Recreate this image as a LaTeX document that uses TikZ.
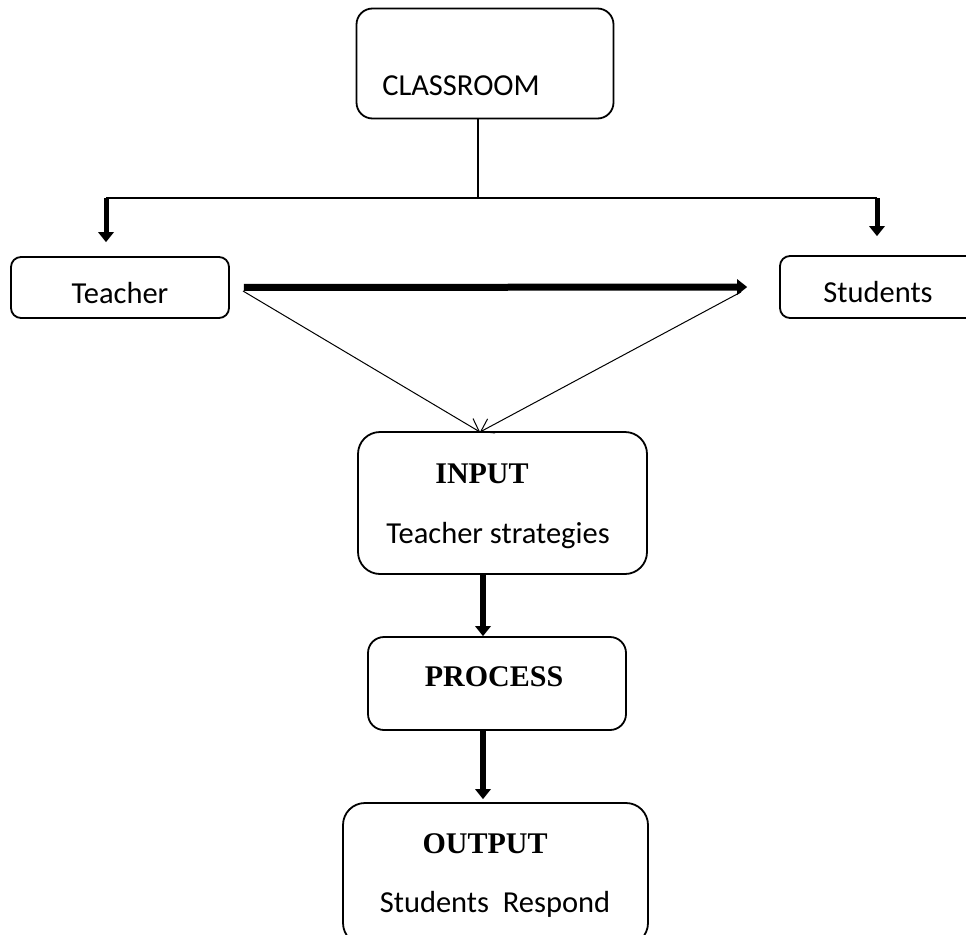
\documentclass[tikz,border=0pt]{standalone}
\usepackage{fontspec}
\setmainfont{Carlito}
\newfontfamily\tnr{Liberation Serif}
\usetikzlibrary{arrows.meta}

\begin{document}
\begin{tikzpicture}[x=1pt,y=1pt,yscale=-1,
    rbox/.style={draw,line width=1.8pt,rounded corners=16pt,inner sep=0pt},
    lbl/.style={anchor=base,inner sep=0pt,font=\fontsize{30.5}{36}\selectfont},
    hdr/.style={anchor=base,inner sep=0pt,font=\tnr\bfseries\fontsize{30}{36}\selectfont},
    fat/.style={line width=6pt,-{Triangle[length=10pt,width=16pt,line width=0pt]}},
    feed/.style={line width=1pt,-{Straight Barb[length=12pt,width=16pt]}}]
    \useasboundingbox (0,0) rectangle (966,934);

    %Rounded Rect [CLASSROOM]
    \draw (485,63.5) node (class) [rbox,minimum width=257pt,minimum height=110pt] {};
    %Rounded Rect [Teacher]
    \draw (120,287.5) node (teacher) [rbox,rounded corners=10pt,minimum width=218pt,minimum height=61pt] {};
    %Rounded Rect [Students]
    \draw (878,287) node (students) [rbox,rounded corners=10pt,minimum width=196pt,minimum height=62pt] {};
    %Rounded Rect [INPUT]
    \draw (502.5,503) node (input) [rbox,rounded corners=22pt,minimum width=289pt,minimum height=142pt] {};
    %Rounded Rect [PROCESS]
    \draw (497,683.5) node (process) [rbox,minimum width=258pt,minimum height=93pt] {};
    %Rounded Rect [OUTPUT]
    \draw (495.5,874) node (output) [rbox,rounded corners=22pt,minimum width=305pt,minimum height=142pt] {};

    %Connectors
    \coordinate (split) at (478,198);
    \coordinate (tl) at (106,198);
    \coordinate (tr) at (877,198);
    \coordinate (fromT) at (243,291);
    \coordinate (fromS) at (741,292);
    \coordinate (meet) at (480,432);
    \coordinate (axis) at (483,600);
    \draw [line width=1.5pt] (class.south -| split) -- (split);
    \draw [line width=1.8pt] (tl) -- (tr);
    \draw [fat,line width=5pt,shorten >=14pt] (tl) -- (teacher.north -| tl);
    \draw [fat,line width=5pt,shorten >=19pt] (tr) -- (students.north -| tr);
    \draw [fat,line width=7pt,shorten <=14pt,shorten >=32pt] (teacher.east) -- (students.west);
    \draw [feed] (fromT) -- (meet);
    \draw [feed] (fromS) -- (meet);
    \draw [fat] (input.south -| axis) -- (process.north -| axis);
    \draw [fat,shorten >=3pt] (process.south -| axis) -- (output.north -| axis);

    % Text Node
    \draw (461,95) node (classlbl) [lbl] {CLASSROOM};
    % Text Node
    \draw (120,303) node (teacherlbl) [lbl] {Teacher};
    % Text Node
    \draw (878,302) node (studentslbl) [lbl] {Students};
    % Text Node
    \draw (482,483) node (inputlbl) [hdr] {INPUT};
    % Text Node
    \draw (498,543) node (inputtxt) [lbl] {Teacher strategies};
    % Text Node
    \draw (494,686) node (processlbl) [hdr] {PROCESS};
    % Text Node
    \draw (485,853) node (outputlbl) [hdr] {OUTPUT};
    % Text Node
    \draw (495,912) node (outputtxt) [lbl] {Students\ \ Respond};
\end{tikzpicture}
\end{document}
